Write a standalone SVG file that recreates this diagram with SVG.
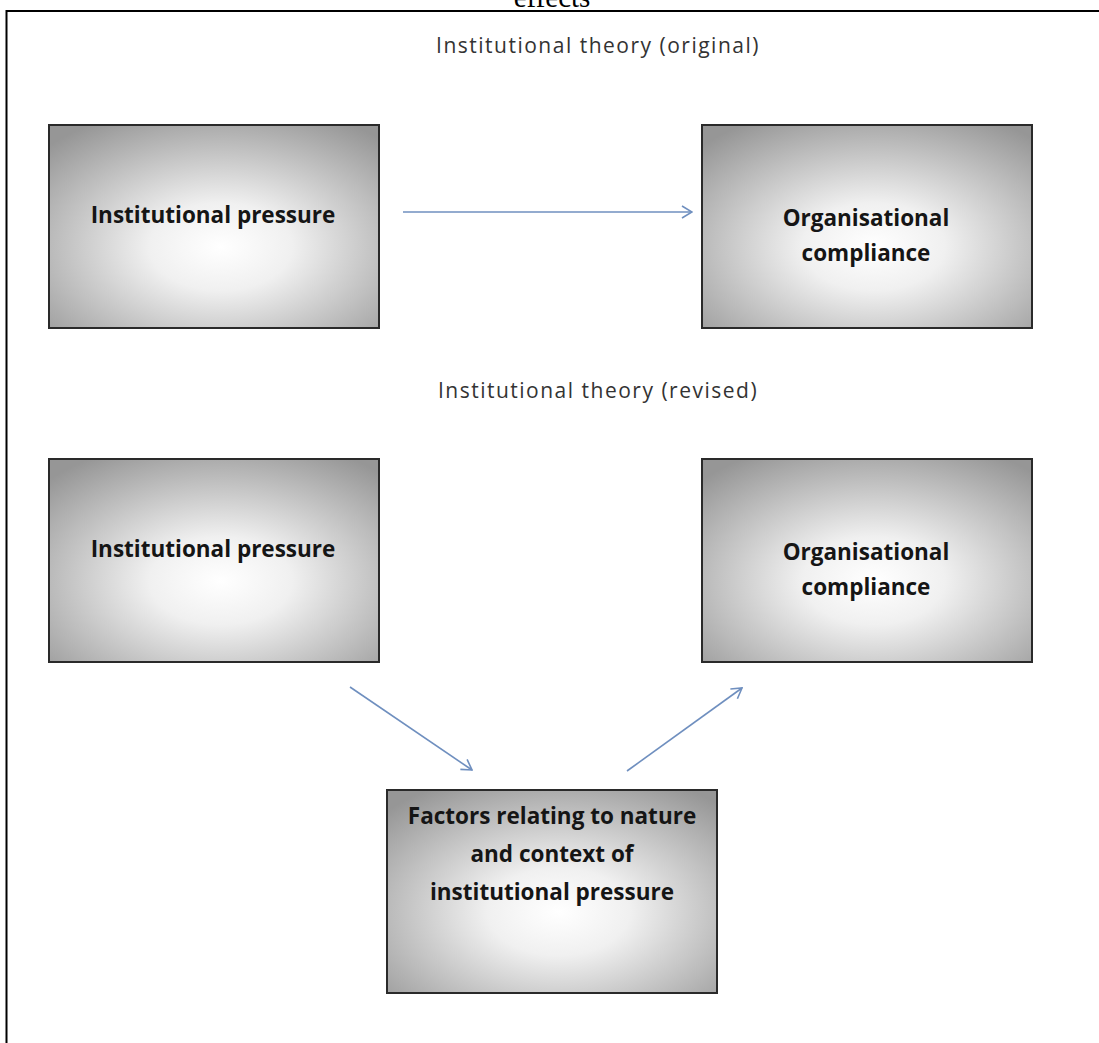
<svg xmlns="http://www.w3.org/2000/svg" width="1099" height="1043" viewBox="0 0 1099 1043">
  <style>
    .box { stroke: #2a2a2a; stroke-width: 2; fill: url(#shade); }
    .label { font-family: "Open Sans", "Liberation Sans", sans-serif; font-weight: bold; font-size: 22.5px; fill: #151515; text-anchor: middle; }
    .title { font-family: "Open Sans", "Liberation Sans", sans-serif; font-size: 21px; letter-spacing: 1.5px; fill: #333; text-anchor: middle; }
    .link { stroke: #6f8fbf; stroke-width: 1.6; fill: none; marker-end: url(#chevron); }
  </style>
  <defs>
    <radialGradient id="shade" cx="0.52" cy="0.6" r="0.72" fx="0.52" fy="0.6">
      <stop offset="0" stop-color="#ffffff"/>
      <stop offset="0.3" stop-color="#f0f0f0"/>
      <stop offset="1" stop-color="#969696"/>
    </radialGradient>
    <marker id="chevron" viewBox="0 0 12 14" refX="11" refY="7" markerWidth="12" markerHeight="14" markerUnits="userSpaceOnUse" orient="auto">
      <path d="M1,1 L11,7 L1,13" fill="none" stroke="#6f8fbf" stroke-width="1.6"/>
    </marker>
  </defs>

  <rect width="1099" height="1043" fill="#ffffff"/>

  <!-- page frame and clipped caption above it -->
  <text x="552" y="7" font-family="Liberation Serif, serif" font-size="29" fill="#000" text-anchor="middle">effects</text>
  <path d="M6.5,1043 V11 H1099" fill="none" stroke="#000" stroke-width="2"/>

  <text class="title" x="598" y="53">Institutional theory (original)</text>
  <text class="title" x="598" y="398">Institutional theory (revised)</text>

  <g id="pressure-original">
    <rect class="box" x="49" y="125" width="330" height="203"/>
    <text class="label" x="213" y="223">Institutional pressure</text>
  </g>
  <g id="compliance-original">
    <rect class="box" x="702" y="125" width="330" height="203"/>
    <text class="label" x="866" y="226">Organisational</text>
    <text class="label" x="866" y="261">compliance</text>
  </g>
  <g id="pressure-revised">
    <rect class="box" x="49" y="459" width="330" height="203"/>
    <text class="label" x="213" y="557">Institutional pressure</text>
  </g>
  <g id="compliance-revised">
    <rect class="box" x="702" y="459" width="330" height="203"/>
    <text class="label" x="866" y="560">Organisational</text>
    <text class="label" x="866" y="595">compliance</text>
  </g>
  <g id="factors">
    <rect class="box" x="387" y="790" width="330" height="203"/>
    <text class="label" x="552" y="824">Factors relating to nature</text>
    <text class="label" x="552" y="862">and context of</text>
    <text class="label" x="552" y="900">institutional pressure</text>
  </g>

  <g id="connectors">
    <line class="link" x1="403" y1="212" x2="692" y2="212"/>
    <line class="link" x1="350" y1="687" x2="472" y2="770"/>
    <line class="link" x1="627" y1="771" x2="742" y2="688"/>
  </g>
</svg>
